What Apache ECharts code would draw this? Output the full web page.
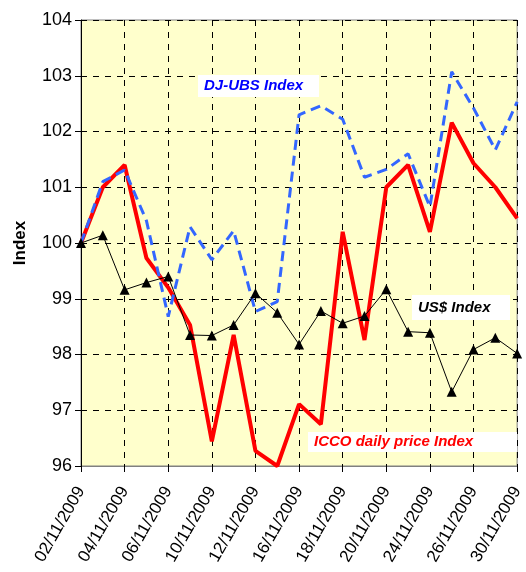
<!DOCTYPE html>
<html>
<head>
<meta charset="utf-8">
<script src="https://cdn.jsdelivr.net/npm/echarts@6/dist/echarts.min.js"></script>
<style>
html, body { margin: 0; padding: 0; background: #fff; }
#container { width: 526px; height: 572px; }
</style>
</head>
<body>
<div id="container"></div>
<script>
var dates = ['02/11/2009', '03/11/2009', '04/11/2009', '05/11/2009', '06/11/2009',
    '09/11/2009', '10/11/2009', '11/11/2009', '12/11/2009', '13/11/2009',
    '16/11/2009', '17/11/2009', '18/11/2009', '19/11/2009', '20/11/2009',
    '23/11/2009', '24/11/2009', '25/11/2009', '26/11/2009', '27/11/2009', '30/11/2009'];

var icco = [100, 101.0, 101.4, 99.73, 99.2, 98.53, 96.44, 98.35, 96.27, 96.0,
    97.11, 96.75, 100.2, 98.26, 101.0, 101.4, 100.2, 102.16, 101.43, 101.0, 100.44];

var djubs = [100, 101.1, 101.31, 100.4, 98.68, 100.29, 99.7, 100.22, 98.77, 98.95,
    102.3, 102.46, 102.22, 101.18, 101.32, 101.6, 100.65, 103.07, 102.42, 101.67, 102.53];

var usd = [100, 100.14, 99.16, 99.29, 99.4, 98.35, 98.34, 98.53, 99.1, 98.75,
    98.18, 98.78, 98.56, 98.69, 99.17, 98.41, 98.39, 97.33, 98.09, 98.3, 98.02];

var yTicks = { min: 96, max: 104, step: 1 };

var dom = document.getElementById("container");
var myChart = echarts.init(dom, null, { renderer: 'canvas' });

var font = 'Liberation Sans, Arial, sans-serif';

// little white boxes with the series names
function tag(x, y, w, h, text, color) {
    return [{
        type: 'rect',
        shape: { x: x, y: y, width: w, height: h },
        style: { fill: '#fff' },
        z: 100
    }, {
        type: 'text',
        x: x + 6,
        y: y + h / 2,
        style: {
            text: text,
            fill: color,
            font: 'italic bold 15px ' + font,
            textVerticalAlign: 'middle'
        },
        z: 101
    }];
}

var option = {
    animation: false,
    backgroundColor: '#fff',
    grid: {
        left: 81,
        top: 20,
        right: 4,
        bottom: 106,
        show: true,
        backgroundColor: '#FFFFCC',
        borderColor: '#808080',
        borderWidth: 1
    },
    xAxis: {
        type: 'category',
        data: dates,
        boundaryGap: false,
        axisLine: { show: true, lineStyle: { color: '#808080', width: 1 } },
        axisTick: { show: true, interval: 1, length: 6, lineStyle: { color: '#000' } },
        axisLabel: {
            interval: 1,
            rotate: 60,
            margin: 22,
            color: '#000',
            fontFamily: font,
            fontSize: 17
        },
        splitLine: {
            show: true,
            interval: 1,
            lineStyle: { color: '#000', type: [6, 6], width: 1 }
        }
    },
    yAxis: {
        type: 'value',
        min: yTicks.min,
        max: yTicks.max,
        interval: yTicks.step,
        name: 'Index',
        nameLocation: 'middle',
        nameGap: 52,
        nameTextStyle: { color: '#000', fontFamily: font, fontSize: 17, fontWeight: 'bold' },
        axisLine: { show: true, lineStyle: { color: '#000', width: 1 } },
        axisTick: { show: true, length: 6, lineStyle: { color: '#000' } },
        axisLabel: { color: '#000', fontFamily: font, fontSize: 18, margin: 9 },
        splitLine: { show: true, lineStyle: { color: '#000', type: [6, 6], width: 1 } }
    },
    series: [{
        name: 'ICCO daily price Index',
        type: 'line',
        data: icco,
        symbol: 'none',
        lineStyle: { color: '#FF0000', width: 4 },
        z: 2
    }, {
        name: 'DJ-UBS Index',
        type: 'line',
        data: djubs,
        symbol: 'none',
        lineStyle: { color: '#3366FF', width: 3, type: [10, 6] },
        z: 3
    }, {
        name: 'US$ Index',
        type: 'line',
        data: usd,
        symbol: 'triangle',
        symbolSize: 10,
        itemStyle: { color: '#000' },
        lineStyle: { color: '#000', width: 1 },
        z: 4
    }],
    graphic: [].concat(
        tag(198, 75, 121, 22, 'DJ-UBS Index', '#0000FF'),
        tag(412, 295, 98, 25, 'US$ Index', '#000'),
        tag(308, 432, 209, 20, 'ICCO daily price Index', '#FF0000')
    )
};

myChart.setOption(option);
</script>
</body>
</html>
